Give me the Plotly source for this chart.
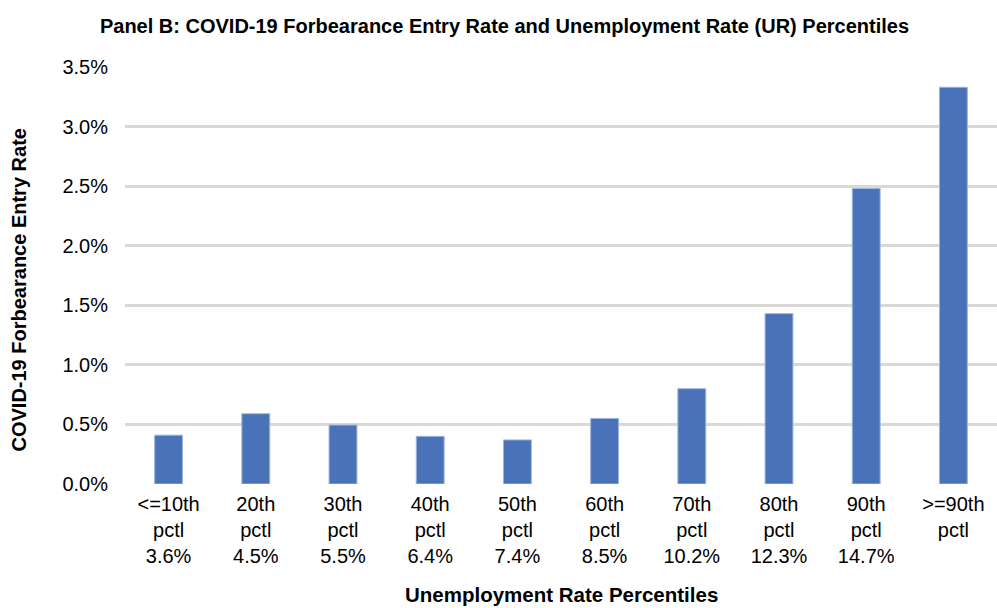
import plotly.graph_objects as go

categories = ["<=10th<br>pctl<br>3.6%", "20th<br>pctl<br>4.5%", "30th<br>pctl<br>5.5%",
              "40th<br>pctl<br>6.4%", "50th<br>pctl<br>7.4%", "60th<br>pctl<br>8.5%",
              "70th<br>pctl<br>10.2%", "80th<br>pctl<br>12.3%", "90th<br>pctl<br>14.7%",
              ">=90th<br>pctl"]
entry_rate = [0.41, 0.59, 0.495, 0.40, 0.37, 0.55, 0.80, 1.43, 2.48, 3.33]
y_ticks = [0, 0.5, 1.0, 1.5, 2.0, 2.5, 3.0, 3.5]

FONT = "Liberation Sans, Arial, sans-serif"

fig = go.Figure(go.Bar(
    x=categories, y=entry_rate,
    marker=dict(color="#4a72b8", line=dict(color="#9fb6e0", width=1)),
))

fig.update_layout(
    width=997, height=608,
    margin=dict(l=125, r=0, t=67, b=124),
    paper_bgcolor="white", plot_bgcolor="white",
    bargap=0.68,
    showlegend=False,
    font=dict(family=FONT, color="black", size=20),
    title=dict(text="<b>Panel B: COVID-19 Forbearance Entry Rate and Unemployment Rate (UR) Percentiles</b>",
               x=0.506, xref="container", xanchor="center", y=0.958, yanchor="middle",
               font=dict(size=20, family=FONT)),
    xaxis=dict(
        showgrid=False, ticks="", showline=False, zeroline=False,
        tickfont=dict(size=20), ticklabelstandoff=6,
    ),
    yaxis=dict(
        range=[0, 3.5], tickvals=y_ticks,
        ticktext=[f"{v:.1f}%" for v in y_ticks],
        showgrid=True, gridcolor="#d9d9d9", gridwidth=2.5,
        zeroline=False, ticks="", ticklabelstandoff=16,
        tickfont=dict(size=20),
    ),
    annotations=[
        dict(text="<b>Unemployment Rate Percentiles</b>", xref="paper", yref="paper",
             x=0.5, y=0, xanchor="center", yanchor="middle", yshift=-110,
             showarrow=False, font=dict(size=20.5, family=FONT)),
        dict(text="<b>COVID-19 Forbearance Entry Rate</b>", xref="paper", yref="paper",
             x=0, y=0.5, xanchor="center", yanchor="middle", xshift=-107, yshift=-15,
             textangle=-90, showarrow=False, font=dict(size=20, family=FONT)),
    ],
)

fig.write_html("out.html")
